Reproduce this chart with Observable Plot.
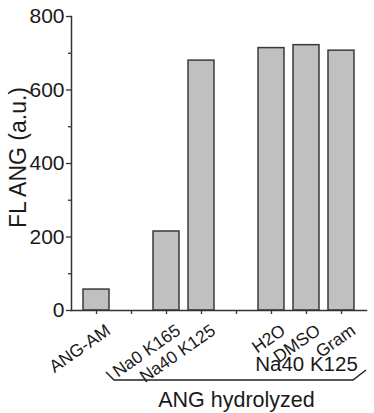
<!DOCTYPE html>
<html><head><meta charset="utf-8">
<script src="https://cdn.jsdelivr.net/npm/d3@7"></script>
<script src="https://cdn.jsdelivr.net/npm/@observablehq/plot@0.6"></script>
<style>body{margin:0;background:#fff} svg{display:block}</style>
</head><body><div id="chart"></div>
<script>
const categories = ["ANG-AM","gap1","Na0 K165","Na40 K125","gap2","H2O","DMSO","Gram"];
const tickLabels = ["ANG-AM","","Na0 K165","Na40 K125","","H2O","DMSO","Gram"];
const values = [57, null, 215, 680, null, 714, 722, 707];
const yTicks = [0,200,400,600,800];
const yMinorTicks = [100,300,500,700];
const groupLabel = "Na40 K125";
const bracketLabel = "ANG hydrolyzed";
const yLabel = "FL ANG (a.u.)";

const data = categories.map((c,i)=>({cat:c, value: values[i]})).filter(d=>d.value!=null);
const labeled = categories.map((c,i)=>({cat:c, label: tickLabels[i]})).filter(d=>d.label);
const font = "'Liberation Sans', Arial, sans-serif";

const plot = Plot.plot({
  width:374, height:413, marginLeft:71, marginRight:8, marginTop:16, marginBottom:103,
  style:{fontFamily:font, color:"#1a1a1a", background:"#fff", overflow:"visible"},
  x:{domain:categories, paddingInner:0.257, paddingOuter:0.33},
  y:{domain:[0,800]},
  marks:[
    Plot.barY(data,{x:"cat", y:"value", fill:"#c0c0c0", stroke:"#3a3a3a", strokeWidth:1.5}),
    Plot.frame({anchor:"left", stroke:"#333", strokeWidth:1.5}),
    Plot.frame({anchor:"bottom", stroke:"#333", strokeWidth:1.5}),
    Plot.axisY({ticks:yTicks, tickSize:5, tickPadding:2, fontSize:21, label:null, stroke:"#333", strokeWidth:1.3}),
    Plot.axisY({ticks:yMinorTicks, tickSize:3, tickFormat:()=>"", label:null, stroke:"#333", strokeWidth:1.3}),
    Plot.axisX({tickSize:4, tickFormat:()=>"", label:null, stroke:"#333", strokeWidth:1.3}),
    Plot.text(labeled, {x:"cat", text:"label", frameAnchor:"bottom", rotate:-35, textAnchor:"end",
      lineAnchor:"middle", dx:12, dy:18, fontSize:17.5}),
    Plot.text([yLabel], {text:d=>d, frameAnchor:"left", textAnchor:"middle", rotate:-90, dx:-53, dy:-6, fontSize:23}),
    Plot.text([groupLabel], {text:d=>d, x:()=>"DMSO", frameAnchor:"bottom", dy:60, fontSize:20.5}),
    Plot.text([bracketLabel], {text:d=>d, x:()=>"gap2", frameAnchor:"bottom", dy:96, fontSize:21.5})
  ]
});
document.getElementById("chart").append(plot);

// bracket under the hydrolyzed group, positioned from the x scale
const xs = plot.scale("x");
const bw = xs.bandwidth;
const xL = xs.apply("Na0 K165") - 47;
const xR = xs.apply("Gram") + bw + 12;
const yB = 380;
d3.select(plot).append("path")
  .attr("d", `M${xL},${yB-8}L${xL+8},${yB}L${xR-13},${yB}L${xR},${yB-10}`)
  .attr("fill","none").attr("stroke","#222").attr("stroke-width",1.5);
</script></body></html>
